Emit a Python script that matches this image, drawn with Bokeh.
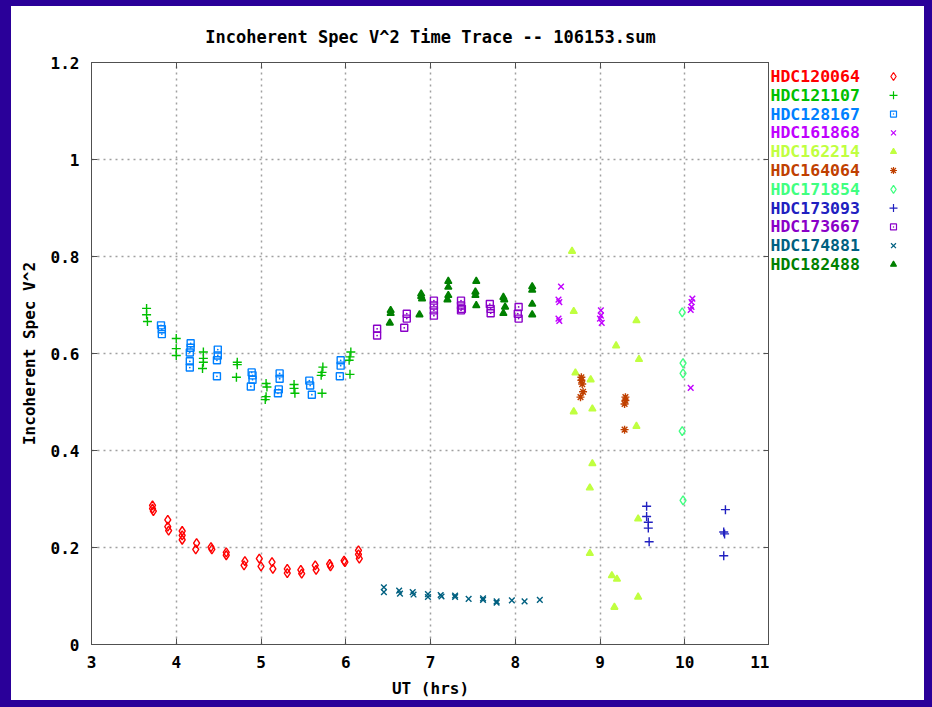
from bokeh.plotting import figure
from bokeh.layouts import row, column
from bokeh.models import Range1d, FixedTicker, LinearAxis, NumeralTickFormatter
from bokeh.core.properties import value
from bokeh.embed import file_html
from bokeh.resources import INLINE

# ---------------- data ----------------
TITLE = "Incoherent Spec V^2 Time Trace -- 106153.sum"
X_LABEL = "UT (hrs)"
Y_LABEL = "Incoherent Spec V^2"
x_ticks = [3, 4, 5, 6, 7, 8, 9, 10, 11]
y_ticks = [0, 0.2, 0.4, 0.6, 0.8, 1.0, 1.2]

stars = ["HDC120064", "HDC121107", "HDC128167", "HDC161868", "HDC162214", "HDC164064",
         "HDC171854", "HDC173093", "HDC173667", "HDC174881", "HDC182488"]

hdc120064_x = [3.72, 3.72, 3.73, 3.90, 3.90, 3.91, 4.07, 4.07, 4.07, 4.24, 4.23, 4.41, 4.42, 4.59, 4.59,
               4.81, 4.80, 4.98, 5.00, 5.13, 5.14, 5.31, 5.31, 5.47, 5.48, 5.64, 5.65, 5.81, 5.82,
               5.98, 5.99, 6.15, 6.16, 6.15]
hdc120064_y = [0.287, 0.280, 0.275, 0.257, 0.243, 0.235, 0.234, 0.225, 0.216, 0.209, 0.196, 0.201, 0.196,
               0.190, 0.184, 0.172, 0.163, 0.177, 0.161, 0.170, 0.156, 0.156, 0.147, 0.154, 0.146,
               0.163, 0.154, 0.166, 0.161, 0.173, 0.170, 0.194, 0.177, 0.186]

hdc121107_x = [3.65, 3.65, 3.66, 4.00, 4.00, 4.00, 4.32, 4.32, 4.32, 4.31, 4.72, 4.72, 4.71,
               5.06, 5.07, 5.06, 5.05, 5.39, 5.39, 5.40, 5.73, 5.72, 5.71, 5.72, 6.06, 6.05, 6.04, 6.05]
hdc121107_y = [0.693, 0.680, 0.666, 0.631, 0.610, 0.596, 0.603, 0.590, 0.582, 0.569, 0.582, 0.577, 0.551,
               0.538, 0.531, 0.511, 0.505, 0.536, 0.528, 0.518, 0.572, 0.561, 0.555, 0.518,
               0.603, 0.593, 0.586, 0.557]

hdc128167_x = [3.82, 3.83, 3.83, 4.17, 4.17, 4.16, 4.16, 4.16, 4.49, 4.49, 4.48, 4.48,
               4.89, 4.90, 4.90, 4.88, 5.22, 5.22, 5.21, 5.20, 5.57, 5.58, 5.60, 5.94, 5.94, 5.93]
hdc128167_y = [0.658, 0.650, 0.640, 0.621, 0.612, 0.602, 0.584, 0.571, 0.608, 0.596, 0.586, 0.553,
               0.561, 0.555, 0.546, 0.532, 0.559, 0.548, 0.526, 0.518, 0.544, 0.534, 0.515,
               0.586, 0.575, 0.553]

hdc161868_x = [8.54, 8.51, 8.52, 8.51, 8.52, 9.01, 9.01, 9.00, 9.02, 10.09, 10.08, 10.08, 10.07, 10.07]
hdc161868_y = [0.738, 0.711, 0.706, 0.672, 0.667, 0.689, 0.678, 0.672, 0.663, 0.713, 0.706, 0.696, 0.690, 0.529]

hdc162214_x = [8.67, 8.69, 9.43, 9.19, 9.46, 8.71, 8.89, 8.69, 8.91, 9.43, 8.91, 8.88, 9.45, 8.88,
               9.14, 9.20, 9.45, 9.17]
hdc162214_y = [0.811, 0.687, 0.668, 0.616, 0.588, 0.560, 0.546, 0.480, 0.486, 0.450, 0.373, 0.323,
               0.259, 0.188, 0.142, 0.135, 0.098, 0.077]

hdc164064_x = [8.78, 8.78, 8.79, 8.80, 8.77, 9.30, 9.30, 9.29, 9.29]
hdc164064_y = [0.551, 0.545, 0.537, 0.521, 0.510, 0.510, 0.503, 0.496, 0.443]

hdc171854_x = [9.97, 9.98, 9.98, 9.97, 9.98]
hdc171854_y = [0.685, 0.580, 0.559, 0.440, 0.297]

hdc173093_x = [9.55, 9.55, 9.57, 9.57, 9.58, 10.48, 10.46, 10.47, 10.46]
hdc173093_y = [0.285, 0.264, 0.252, 0.240, 0.212, 0.278, 0.232, 0.228, 0.183]

hdc173667_x = [6.37, 6.37, 6.69, 6.72, 6.72, 7.04, 7.04, 7.04, 7.04, 7.36, 7.36, 7.37, 7.36,
               7.70, 7.71, 7.71, 8.04, 8.03, 8.04]
hdc173667_y = [0.651, 0.637, 0.653, 0.682, 0.672, 0.709, 0.699, 0.689, 0.678, 0.709, 0.699, 0.692, 0.689,
               0.702, 0.692, 0.683, 0.696, 0.682, 0.672]

hdc174881_x = [6.45, 6.45, 6.63, 6.64, 6.79, 6.80, 6.97, 6.97, 7.12, 7.13, 7.29, 7.29, 7.45,
               7.62, 7.62, 7.78, 7.78, 7.96, 8.11, 8.29]
hdc174881_y = [0.118, 0.108, 0.111, 0.105, 0.108, 0.103, 0.104, 0.098, 0.102, 0.099, 0.101, 0.098, 0.094,
               0.092, 0.095, 0.089, 0.086, 0.091, 0.089, 0.092]

hdc182488_x = [6.53, 6.53, 6.52, 6.87, 6.89, 6.89, 6.90, 7.21, 7.21, 7.21, 7.20, 7.54, 7.53, 7.53, 7.54,
               7.86, 7.87, 7.88, 7.86, 8.20, 8.20, 8.20, 8.20]
hdc182488_y = [0.689, 0.683, 0.663, 0.680, 0.723, 0.718, 0.713, 0.749, 0.737, 0.720, 0.711,
               0.749, 0.727, 0.720, 0.699, 0.716, 0.711, 0.696, 0.683, 0.738, 0.731, 0.702, 0.680]

xs = [hdc120064_x, hdc121107_x, hdc128167_x, hdc161868_x, hdc162214_x, hdc164064_x,
      hdc171854_x, hdc173093_x, hdc173667_x, hdc174881_x, hdc182488_x]
ys = [hdc120064_y, hdc121107_y, hdc128167_y, hdc161868_y, hdc162214_y, hdc164064_y,
      hdc171854_y, hdc173093_y, hdc173667_y, hdc174881_y, hdc182488_y]

# ---------------- style ----------------
colors = ["#ff0000", "#00c000", "#0080ff", "#c000ff", "#c0ff40", "#c04000",
          "#40ff80", "#2020c0", "#8a00c8", "#006080", "#008000"]
markers = ["diamond", "cross", "square_dot", "x", "triangle", "asterisk",
           "diamond", "cross", "square_dot", "x", "triangle"]
sizes = [9, 9, 7, 8, 7, 8, 9, 9, 7, 8, 7]
filled = [False, False, False, False, True, False, False, False, False, False, True]

FONT = "DejaVu Sans Mono"
BORDER = "#2a0099"
GRID = "#a0a0a0"
FRAME = "#505050"

p = figure(width=758, height=694, x_range=Range1d(3, 11), y_range=Range1d(0, 1.2),
           output_backend="svg", toolbar_location=None,
           min_border_left=80, min_border_right=0, min_border_top=56, min_border_bottom=56,
           title=TITLE)
p.border_fill_color = "white"
p.background_fill_color = "white"
p.outline_line_color = FRAME
p.outline_line_width = 1

p.title.text_font = FONT
p.title.text_font_size = "17px"
p.title.text_font_style = "bold"
p.title.align = "center"
p.title.text_color = "black"
p.title.standoff = 32

for ax in (p.xaxis[0], p.yaxis[0]):
    ax.axis_line_color = FRAME
    ax.major_tick_in = 6
    ax.major_tick_out = 0
    ax.major_tick_line_color = FRAME
    ax.minor_tick_line_color = None
    ax.major_label_text_font = FONT
    ax.major_label_text_font_size = "16px"
    ax.major_label_text_font_style = "bold"
    ax.major_label_text_color = "black"
    ax.axis_label_text_font = FONT
    ax.axis_label_text_font_size = "16px"
    ax.axis_label_text_font_style = "bold"
    ax.axis_label_text_color = "black"

p.xaxis[0].ticker = FixedTicker(ticks=x_ticks)
p.yaxis[0].ticker = FixedTicker(ticks=y_ticks)
p.yaxis[0].formatter = NumeralTickFormatter(format="0.[0]")
p.xaxis[0].axis_label = X_LABEL
p.yaxis[0].axis_label = Y_LABEL
p.xaxis[0].major_label_standoff = 11
p.xaxis[0].axis_label_standoff = 8
p.yaxis[0].major_label_standoff = 12
p.yaxis[0].axis_label_standoff = 9

for loc, tk in (("right", y_ticks), ("above", x_ticks)):
    m = LinearAxis(ticker=FixedTicker(ticks=tk), major_label_text_font_size="0px",
                   axis_line_color=None, major_tick_in=6, major_tick_out=0,
                   major_tick_line_color=FRAME, minor_tick_line_color=None,
                   major_label_standoff=0)
    p.add_layout(m, loc)

p.xgrid.ticker = FixedTicker(ticks=x_ticks)
p.ygrid.ticker = FixedTicker(ticks=y_ticks)
for g in (p.xgrid[0], p.ygrid[0]):
    g.grid_line_color = GRID
    g.grid_line_dash = "2 4"
    g.grid_line_width = 1.5

for i in range(len(stars)):
    p.scatter(xs[i], ys[i], marker=markers[i], size=sizes[i], line_color=colors[i],
              fill_color=colors[i] if filled[i] else None, line_width=1.4)

# ---------------- legend panel ----------------
# the legend panel's frame is aligned with the plot frame (62..644 px on the page);
# entries sit 18.8 px apart, the first one 14 px below the frame top
idx = list(range(len(stars)))
leg = figure(width=155, height=694, x_range=Range1d(0, 155),
             y_range=Range1d((644 - 76) / 18.8, -(76 - 62) / 18.8),
             output_backend="svg", toolbar_location=None, x_axis_type=None, y_axis_type=None,
             min_border=0)
leg.border_fill_color = "white"
leg.outline_line_color = None
leg.grid.visible = False
leg.text(x=[1] * len(stars), y=idx, text=stars, text_color=colors, text_font=value(FONT),
         text_font_size="16.5px", text_font_style="bold", text_baseline="middle", text_align="left")
for i in range(len(stars)):
    leg.scatter([124], [i], marker=markers[i], size=sizes[i] - 1, line_color=colors[i],
                fill_color=colors[i] if filled[i] else None, line_width=1.2)

inner = row(p, leg, margin=(6, 8, 7, 11), styles={"background-color": "white"})
page = column(inner, styles={"background-color": BORDER})

open("out.html", "w").write(file_html(page, INLINE))
